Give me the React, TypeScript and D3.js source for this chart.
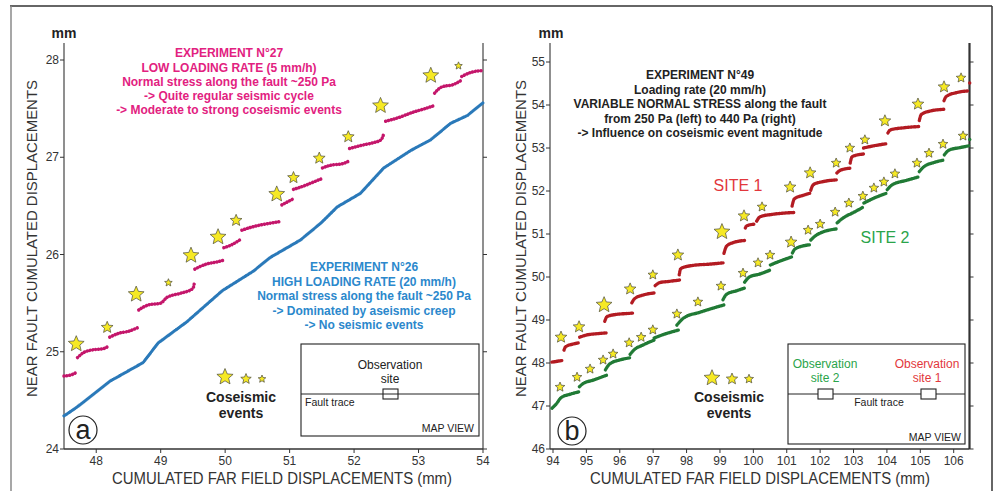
import React from "react";
import * as d3 from "d3";

// ---------- DATA ----------
// Panel (a): experiment 27 (low loading rate) — staircase segments [far field mm, near fault mm]
const exp27Segments: [number, number][][] = [
  [[47.5, 24.75], [47.6, 24.76], [47.7, 24.79]],
  [[47.71, 24.94], [47.8, 24.99], [47.95, 25.02], [48.1, 25.03], [48.2, 25.06]],
  [[48.21, 25.15], [48.35, 25.19], [48.5, 25.21], [48.65, 25.25]],
  [[48.66, 25.43], [48.8, 25.48], [49.0, 25.5], [49.1, 25.56], [49.3, 25.6], [49.5, 25.65], [49.52, 25.7]],
  [[49.53, 25.85], [49.7, 25.9], [49.85, 25.92], [49.97, 25.94]],
  [[49.98, 26.07], [50.1, 26.1], [50.25, 26.16]],
  [[50.26, 26.25], [50.4, 26.28], [50.6, 26.31], [50.87, 26.34]],
  [[50.88, 26.51], [51.05, 26.57]],
  [[51.06, 26.67], [51.2, 26.7], [51.35, 26.74], [51.5, 26.78]],
  [[51.51, 26.89], [51.65, 26.92], [51.8, 26.93], [51.92, 26.96]],
  [[51.93, 27.09], [52.1, 27.12], [52.3, 27.15], [52.42, 27.18], [52.46, 27.24]],
  [[52.49, 27.37], [52.7, 27.41], [52.9, 27.46], [53.1, 27.5], [53.24, 27.53]],
  [[53.25, 27.66], [53.35, 27.72], [53.55, 27.75], [53.66, 27.79]],
  [[53.67, 27.83], [53.8, 27.87], [53.97, 27.89]],
];
// Panel (a): experiment 26 (high loading rate) — continuous creep
const exp26Points: [number, number][] = [
  [47.5, 24.34], [47.7, 24.43], [48.22, 24.7], [48.73, 24.89], [48.96, 25.09], [49.41, 25.31],
  [49.96, 25.63], [50.44, 25.83], [50.7, 25.97], [51.17, 26.15], [51.48, 26.32], [51.74, 26.49],
  [52.1, 26.63], [52.46, 26.89], [52.88, 27.07], [53.19, 27.18], [53.5, 27.35], [53.76, 27.43], [54.0, 27.56],
];
// Panel (a) coseismic events: x, y, magnitude class (1 small … 3 large)
const exp27StarX = [47.69, 48.17, 48.62, 49.12, 49.47, 49.89, 50.17, 50.8, 51.06, 51.46, 51.91, 52.41, 53.19, 53.62];
const exp27StarY = [25.08, 25.25, 25.59, 25.71, 25.99, 26.18, 26.35, 26.62, 26.79, 26.99, 27.21, 27.53, 27.84, 27.94];
const exp27StarMag = [3, 2, 3, 1, 3, 3, 2, 3, 2, 2, 2, 3, 3, 1];

// Panel (b): experiment 49, site 1 segments
const site1Segments: [number, number][][] = [
  [[93.97, 48.02], [94.3, 48.06]],
  [[94.33, 48.3], [94.38, 48.38], [94.6, 48.44], [94.78, 48.47]],
  [[94.8, 48.6], [95.0, 48.65], [95.3, 48.68], [95.62, 48.7]],
  [[95.55, 48.97], [95.62, 49.08], [95.9, 49.13], [96.2, 49.15], [96.4, 49.16]],
  [[96.36, 49.4], [96.45, 49.5], [96.7, 49.58], [97.05, 49.63]],
  [[97.06, 49.8], [97.2, 49.87], [97.5, 49.9], [97.8, 49.93]],
  [[97.78, 50.05], [97.83, 50.2], [98.2, 50.27], [98.7, 50.3], [99.12, 50.33]],
  [[99.12, 50.55], [99.2, 50.72], [99.4, 50.8], [99.75, 50.85]],
  [[99.76, 51.14], [99.8, 51.19], [100.05, 51.23]],
  [[100.1, 51.3], [100.2, 51.4], [100.6, 51.46], [101.22, 51.5]],
  [[101.16, 51.65], [101.23, 51.82], [101.5, 51.9], [101.7, 51.95]],
  [[101.72, 52.02], [101.8, 52.15], [102.1, 52.22], [102.5, 52.26]],
  [[102.5, 52.42], [102.6, 52.48], [102.9, 52.53]],
  [[102.9, 52.65], [102.96, 52.8], [103.3, 52.86]],
  [[103.3, 53.0], [103.6, 53.05], [104.0, 53.1]],
  [[104.03, 53.35], [104.1, 53.42], [104.5, 53.47], [104.95, 53.5]],
  [[104.97, 53.64], [105.03, 53.78], [105.3, 53.86], [105.71, 53.9]],
  [[105.71, 54.1], [105.78, 54.2], [106.1, 54.29], [106.45, 54.33]],
  [[106.48, 54.51]],
];
// Panel (b): site 2 segments
const site2Segments: [number, number][][] = [
  [[93.97, 46.95], [94.1, 47.05], [94.25, 47.2], [94.5, 47.27], [94.78, 47.33]],
  [[94.79, 47.45], [94.9, 47.52], [95.2, 47.6], [95.62, 47.72]],
  [[95.57, 47.84], [95.7, 47.98], [96.0, 48.07], [96.3, 48.12]],
  [[96.31, 48.2], [96.42, 48.3], [96.7, 48.42], [97.05, 48.54]],
  [[97.03, 48.58], [97.3, 48.66], [97.78, 48.77]],
  [[97.71, 48.88], [97.92, 49.05], [98.4, 49.18], [99.12, 49.35]],
  [[99.09, 49.47], [99.2, 49.6], [99.5, 49.68], [99.73, 49.74]],
  [[99.74, 49.88], [99.88, 50.0], [100.2, 50.07], [100.5, 50.16]],
  [[100.51, 50.28], [100.8, 50.37], [101.16, 50.47]],
  [[101.17, 50.56], [101.26, 50.66], [101.7, 50.75]],
  [[101.72, 50.86], [101.9, 50.98], [102.5, 51.12]],
  [[102.51, 51.26], [102.7, 51.38], [103.0, 51.5], [103.3, 51.63]],
  [[103.31, 51.72], [103.6, 51.83], [104.0, 51.95]],
  [[104.01, 52.03], [104.15, 52.14], [104.6, 52.25], [104.96, 52.33]],
  [[104.97, 52.45], [105.1, 52.56], [105.4, 52.66], [105.71, 52.72]],
  [[105.72, 52.84], [105.86, 52.95], [106.2, 53.01], [106.45, 53.05]],
  [[106.48, 53.2]],
];
const site1StarX = [94.24, 94.78, 95.53, 96.31, 96.99, 97.74, 99.06, 99.72, 100.26, 101.1, 101.7, 102.48, 102.89, 103.34, 103.94, 104.93, 105.71, 106.22];
const site1StarY = [48.6, 48.84, 49.35, 49.72, 50.05, 50.51, 51.05, 51.42, 51.63, 52.09, 52.42, 52.65, 53.0, 53.19, 53.63, 54.02, 54.42, 54.63];
const site1StarMag = [2, 2, 3, 2, 1.5, 2, 3, 2, 1.5, 2, 2, 1.5, 1.5, 1.5, 2, 2, 2, 1.5];
const site2StarX = [94.21, 94.72, 95.11, 95.5, 95.8, 96.28, 96.64, 96.99, 97.71, 98.34, 99.03, 99.69, 100.14, 100.5, 101.13, 101.64, 102.0, 102.45, 102.86, 103.28, 103.61, 103.91, 104.24, 104.9, 105.26, 105.68, 106.28];
const site2StarY = [47.44, 47.67, 47.86, 48.07, 48.21, 48.47, 48.6, 48.77, 49.14, 49.42, 49.79, 50.09, 50.33, 50.51, 50.81, 51.09, 51.23, 51.51, 51.72, 51.88, 52.07, 52.21, 52.4, 52.65, 52.88, 53.09, 53.28];
const site2StarMag = [1.5, 1.5, 1.5, 1.5, 1.5, 1.5, 1.5, 1.5, 1.5, 1.5, 1.5, 1.5, 1.5, 1.5, 2, 1.5, 1.5, 1.5, 1.5, 1.5, 1.5, 1.5, 1.5, 1.5, 1.5, 1.5, 1.5];

const ticksAX = [48, 49, 50, 51, 52, 53, 54];
const ticksAY = [24, 25, 26, 27, 28];
const ticksBX = [94, 95, 96, 97, 98, 99, 100, 101, 102, 103, 104, 105, 106];
const ticksBY = [46, 47, 48, 49, 50, 51, 52, 53, 54, 55];

const textA27 = [
  "EXPERIMENT N°27",
  "LOW LOADING RATE (5 mm/h)",
  "Normal stress along the fault ~250 Pa",
  "-> Quite regular seismic cycle",
  "-> Moderate to strong coseismic events",
];
const textA26 = [
  "EXPERIMENT N°26",
  "HIGH LOADING RATE (20 mm/h)",
  "Normal stress along the fault ~250 Pa",
  "-> Dominated by aseismic creep",
  "-> No seismic events",
];
const textB49 = [
  "EXPERIMENT N°49",
  "Loading rate (20 mm/h)",
  "VARIABLE NORMAL STRESS along the fault",
  "from 250 Pa (left) to 440 Pa (right)",
  "-> Influence on coseismic event magnitude",
];

// ---------- STYLE ----------
const FONT = "'Liberation Sans', Arial, Helvetica, sans-serif";
const AXIS = "#333";
const MAGENTA_TXT = "#e2217f";
const MAGENTA_DOT = "#c4166b";
const BLUE_TXT = "#2b88cc";
const BLUE_DOT = "#2a79b9";
const RED_DOT = "#b31b22";
const RED_TXT = "#e2373c";
const GREEN_DOT = "#207a35";
const GREEN_TXT = "#2aa44a";
const STAR_FILL = "#f6e925";

const starRadius = d3.scaleLinear().domain([1, 3]).range([4, 8.3]);

function starPath(cx: number, cy: number, r: number) {
  const pts: string[] = [];
  const ri = r * 0.45;
  for (let i = 0; i < 10; i++) {
    const a = -Math.PI / 2 + (i * Math.PI) / 5;
    const rr = i % 2 === 0 ? r : ri;
    pts.push(`${(cx + rr * Math.cos(a)).toFixed(2)},${(cy + rr * Math.sin(a)).toFixed(2)}`);
  }
  return "M" + pts.join("L") + "Z";
}

function Star({ x, y, r }: { x: number; y: number; r: number }) {
  return <path d={starPath(x, y, r)} fill={STAR_FILL} stroke="#4a4a3a" strokeWidth={0.7} strokeLinejoin="miter" />;
}

type Scale = d3.ScaleLinear<number, number>;

function DottedSeries({ segs, xs, ys, color, width, gap }: { segs: [number, number][][]; xs: Scale; ys: Scale; color: string; width: number; gap: number }) {
  const line = d3
    .line<[number, number]>()
    .x((d) => xs(d[0]))
    .y((d) => ys(d[1]))
    .curve(d3.curveMonotoneX);
  return (
    <g>
      {segs.map((s, i) =>
        s.length === 1 ? (
          <circle key={i} cx={xs(s[0][0])} cy={ys(s[0][1])} r={width / 2} fill={color} />
        ) : (
          <path
            key={i}
            d={line(s) || ""}
            fill="none"
            stroke={color}
            strokeWidth={width}
            strokeLinecap="round"
            strokeDasharray={`0.01 ${gap}`}
          />
        )
      )}
    </g>
  );
}

function Axes({
  xs, ys, xTicks, yTicks, left, right, top, bottom, rightWidth,
}: {
  xs: Scale; ys: Scale; xTicks: number[]; yTicks: number[]; left: number; right: number; top: number; bottom: number; rightWidth: number;
}) {
  return (
    <g fontFamily={FONT} fontSize={12} fill={AXIS}>
      <line x1={left} x2={left} y1={top} y2={bottom} stroke={AXIS} strokeWidth={1.1} />
      <line x1={right} x2={right} y1={top} y2={bottom} stroke={AXIS} strokeWidth={rightWidth} />
      <line x1={left} x2={right} y1={bottom} y2={bottom} stroke={AXIS} strokeWidth={1.4} />
      {yTicks.map((t) => (
        <g key={"y" + t}>
          <line x1={left - 4} x2={left} y1={ys(t)} y2={ys(t)} stroke={AXIS} strokeWidth={1} />
          <line x1={right} x2={right + 4} y1={ys(t)} y2={ys(t)} stroke={AXIS} strokeWidth={1} />
          <text x={left - 5} y={ys(t)} dy="0.35em" textAnchor="end">
            {t}
          </text>
        </g>
      ))}
      {xTicks.map((t) => (
        <g key={"x" + t}>
          <line x1={xs(t)} x2={xs(t)} y1={bottom} y2={bottom + 4} stroke={AXIS} strokeWidth={1} />
          <text x={xs(t)} y={bottom + 16} textAnchor="middle">
            {t}
          </text>
        </g>
      ))}
    </g>
  );
}

function TextBlock({ lines, x, y, color, step }: { lines: string[]; x: number; y: number; color: string; step: number }) {
  return (
    <g fontFamily={FONT} fontSize={12} fontWeight="bold" fill={color} textAnchor="middle">
      {lines.map((l, i) => (
        <text key={i} x={x} y={y + i * step} dy="0.35em">
          {l}
        </text>
      ))}
    </g>
  );
}

export default function App() {
  // Panel a scales
  const xa = d3.scaleLinear().domain([47.5, 54]).range([64, 483]);
  const ya = d3.scaleLinear().domain([24, 28]).range([449, 60]);
  // Panel b scales
  const xb = d3.scaleLinear().domain([94, 106]).range([553, 953.7]);
  const yb = d3.scaleLinear().domain([46, 55]).range([449, 62]);

  const creepLine = d3
    .line<[number, number]>()
    .x((d) => xa(d[0]))
    .y((d) => ya(d[1]));

  return (
    <svg
      width={994}
      height={491}
      style={{ position: "absolute", left: 0, top: 0, background: "#fff" }}
      fontFamily={FONT}
    >
      <rect x={0} y={0} width={994} height={491} fill="#fff" />
      {/* outer frame */}
      <line x1={10} x2={992} y1={6} y2={6} stroke="#333" strokeWidth={1.5} />
      <line x1={11} x2={11} y1={6} y2={491} stroke="#8a8a8a" strokeWidth={1.5} />
      <line x1={992} x2={992} y1={6} y2={491} stroke="#333" strokeWidth={1.5} />

      {/* ---------- Panel a ---------- */}
      <text x={64} y={38} textAnchor="middle" fontSize={14} fontWeight="bold" fill="#222">
        mm
      </text>
      <Axes xs={xa} ys={ya} xTicks={ticksAX} yTicks={ticksAY} left={64} right={483} top={43} bottom={449} rightWidth={1.1} />
      <text
        transform={`translate(37,238.5) rotate(-90)`}
        textAnchor="middle"
        fontSize={15}
        fill="#333"
        textLength={317}
        lengthAdjust="spacingAndGlyphs"
      >
        NEAR FAULT CUMULATED DISPLACEMENTS
      </text>
      <text x={282} y={484} textAnchor="middle" fontSize={16} fill="#333" textLength={340} lengthAdjust="spacingAndGlyphs">
        CUMULATED FAR FIELD DISPLACEMENTS (mm)
      </text>

      <path
        d={creepLine(exp26Points) || ""}
        fill="none"
        stroke={BLUE_DOT}
        strokeWidth={3.2}
        strokeLinecap="round"
        strokeLinejoin="round"
        strokeDasharray="0.01 1.6"
      />
      <DottedSeries segs={exp27Segments} xs={xa} ys={ya} color={MAGENTA_DOT} width={3.5} gap={2.9} />
      {exp27StarX.map((x, i) => (
        <Star key={i} x={xa(x)} y={ya(exp27StarY[i])} r={starRadius(exp27StarMag[i])} />
      ))}

      <TextBlock lines={textA27} x={229} y={53} color={MAGENTA_TXT} step={14.3} />
      <TextBlock lines={textA26} x={364} y={267} color={BLUE_TXT} step={14.5} />

      {/* legend stars a */}
      <Star x={225} y={377} r={8.5} />
      <Star x={246} y={379} r={5.5} />
      <Star x={262} y={379} r={4} />
      <text x={241} y={397} dy="0.35em" textAnchor="middle" fontSize={14} fontWeight="bold" fill="#222">
        Coseismic
      </text>
      <text x={241} y={413} dy="0.35em" textAnchor="middle" fontSize={14} fontWeight="bold" fill="#222">
        events
      </text>

      {/* inset a */}
      <rect x={301} y={344} width={178} height={92} fill="#fff" stroke="#222" strokeWidth={1.1} />
      <line x1={301} x2={479} y1={394} y2={394} stroke="#222" strokeWidth={1} />
      <rect x={383} y={389} width={15} height={10} fill="none" stroke="#222" strokeWidth={1.1} />
      <text x={390} y={365} dy="0.35em" textAnchor="middle" fontSize={12} fill="#222">
        Observation
      </text>
      <text x={390} y={379} dy="0.35em" textAnchor="middle" fontSize={12} fill="#222">
        site
      </text>
      <text x={305} y={402} dy="0.35em" fontSize={10.5} fill="#222">
        Fault trace
      </text>
      <text x={474} y={428} dy="0.35em" textAnchor="end" fontSize={10.5} fill="#222">
        MAP VIEW
      </text>

      <circle cx={83} cy={430} r={14} fill="#fff" stroke="#222" strokeWidth={1.2} />
      <text x={83} y={430} dy="0.32em" textAnchor="middle" fontSize={27} fill="#222">
        a
      </text>

      {/* ---------- Panel b ---------- */}
      <text x={551} y={38} textAnchor="middle" fontSize={14} fontWeight="bold" fill="#222">
        mm
      </text>
      <Axes xs={xb} ys={yb} xTicks={ticksBX} yTicks={ticksBY} left={550} right={969.5} top={43} bottom={449} rightWidth={2.2} />
      <text
        transform={`translate(526,238.5) rotate(-90)`}
        textAnchor="middle"
        fontSize={15}
        fill="#333"
        textLength={317}
        lengthAdjust="spacingAndGlyphs"
      >
        NEAR FAULT CUMULATED DISPLACEMENTS
      </text>
      <text x={760} y={484} textAnchor="middle" fontSize={16} fill="#333" textLength={340} lengthAdjust="spacingAndGlyphs">
        CUMULATED FAR FIELD DISPLACEMENTS (mm)
      </text>

      <DottedSeries segs={site2Segments} xs={xb} ys={yb} color={GREEN_DOT} width={3.4} gap={1.4} />
      <DottedSeries segs={site1Segments} xs={xb} ys={yb} color={RED_DOT} width={3.4} gap={1.4} />
      {site1StarX.map((x, i) => (
        <Star key={"s1" + i} x={xb(x)} y={yb(site1StarY[i])} r={starRadius(site1StarMag[i])} />
      ))}
      {site2StarX.map((x, i) => (
        <Star key={"s2" + i} x={xb(x)} y={yb(site2StarY[i])} r={starRadius(site2StarMag[i])} />
      ))}

      <TextBlock lines={textB49} x={700} y={75} color="#222" step={14.5} />
      <text x={738} y={185} dy="0.35em" textAnchor="middle" fontSize={16} fill={RED_TXT}>
        SITE 1
      </text>
      <text x={885} y={237} dy="0.35em" textAnchor="middle" fontSize={16} fill={GREEN_TXT}>
        SITE 2
      </text>

      <Star x={712} y={378} r={8.3} />
      <Star x={732} y={379} r={6} />
      <Star x={749} y={379} r={4.8} />
      <text x={729} y={397} dy="0.35em" textAnchor="middle" fontSize={14} fontWeight="bold" fill="#222">
        Coseismic
      </text>
      <text x={729} y={413} dy="0.35em" textAnchor="middle" fontSize={14} fontWeight="bold" fill="#222">
        events
      </text>

      {/* inset b */}
      <rect x={788} y={344} width={177} height={100} fill="#fff" stroke="#222" strokeWidth={1.1} />
      <line x1={788} x2={965} y1={394} y2={394} stroke="#222" strokeWidth={1} />
      <rect x={818} y={389} width={15} height={10} fill="#fff" stroke="#222" strokeWidth={1.1} />
      <rect x={921} y={389} width={15} height={10} fill="#fff" stroke="#222" strokeWidth={1.1} />
      <text x={825} y={364} dy="0.35em" textAnchor="middle" fontSize={12} fill={GREEN_TXT}>
        Observation
      </text>
      <text x={825} y={378} dy="0.35em" textAnchor="middle" fontSize={12} fill={GREEN_TXT}>
        site 2
      </text>
      <text x={927} y={364} dy="0.35em" textAnchor="middle" fontSize={12} fill={RED_TXT}>
        Observation
      </text>
      <text x={927} y={378} dy="0.35em" textAnchor="middle" fontSize={12} fill={RED_TXT}>
        site 1
      </text>
      <text x={879} y={402} dy="0.35em" textAnchor="middle" fontSize={10.5} fill="#222">
        Fault trace
      </text>
      <text x={961} y={437} dy="0.35em" textAnchor="end" fontSize={10.5} fill="#222">
        MAP VIEW
      </text>

      <circle cx={572} cy={431} r={14} fill="#fff" stroke="#222" strokeWidth={1.2} />
      <text x={572} y={431} dy="0.35em" textAnchor="middle" fontSize={27} fill="#222">
        b
      </text>
    </svg>
  );
}
